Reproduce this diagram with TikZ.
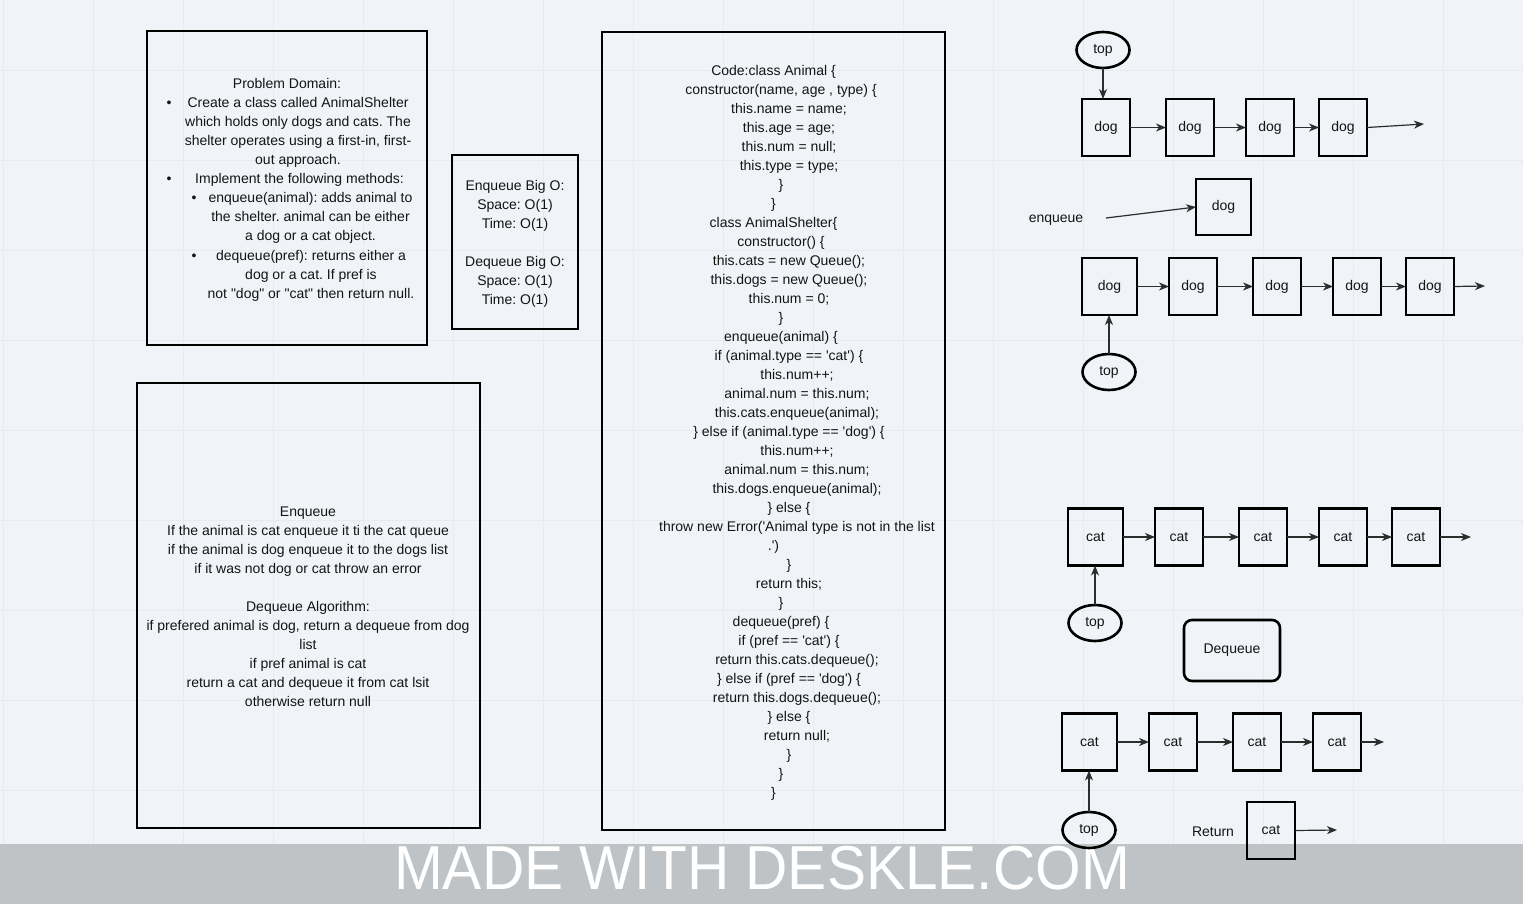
\documentclass[tikz,border=0pt]{standalone}
\usepackage{fontspec}
\setmainfont{Liberation Sans}
\usetikzlibrary{arrows.meta,shapes.geometric}
\definecolor{bg}{RGB}{240,243,247}
\definecolor{gridc}{RGB}{231,235,240}
\definecolor{band}{RGB}{191,195,198}
\definecolor{ink}{RGB}{20,20,20}
\definecolor{linkc}{RGB}{45,45,45}
\newcommand{\mlines}[1]{\begin{tabular}[t]{@{}c@{}}#1\end{tabular}}
\newcommand{\indA}{\hspace*{15pt}}
\newcommand{\indB}{\hspace*{31pt}}
\newcommand{\indC}{\hspace*{47pt}}
\newcommand{\squote}{\textquotesingle}
\newcommand{\dquote}{\textquotedbl}
\frenchspacing
\begin{document}
\begin{tikzpicture}[x=1pt,y=-1pt,
  every node/.style={font=\frenchspacing\fontsize{14}{19}\selectfont, text=ink, inner sep=0pt, outer sep=0pt},
  bigbox/.style={draw=black, line width=2pt},
  cell/.style={draw=black, line width=2.2pt, minimum height=57pt},
  topnode/.style={ellipse, draw=black, line width=2.6pt, minimum width=53pt, minimum height=36pt},
  link/.style={draw=linkc, line width=1.2pt, -{Stealth[length=10pt,width=8pt,inset=3pt]}},
  txt/.style={anchor=base}
]
\useasboundingbox (0,0) rectangle (1523,904);
\fill[bg] (0,0) rectangle (1523,904);
\foreach \gx in {3,93,...,1523} \draw[gridc, line width=0.7pt] (\gx,0) -- (\gx,904);
\foreach \gy in {70,160,...,904} \draw[gridc, line width=0.7pt] (0,\gy) -- (1523,\gy);

% watermark band
\fill[band] (0,844) rectangle (1523,904);
\node[font=\fontsize{62}{62}\selectfont, text=white, xscale=0.945] (wm) at (762,868) {MADE WITH DESKLE.COM};

% Problem domain
\node[bigbox, minimum width=280pt, minimum height=314pt] (pdbox) at (287,188) {};
\node[txt] (pdt) at (287,89) {Problem Domain:};
\node[txt] (pd1) at (298,108) {\mlines{Create a class called AnimalShelter\\which holds only dogs and cats. The\\shelter operates using a first-in, first-\\out approach.}};
\node[txt] (pd2) at (299.5,184) {Implement the following methods:};
\node[txt] (pd3) at (310.5,203) {\mlines{enqueue(animal): adds animal to\\the shelter. animal can be either\\a dog or a cat object.}};
\node[txt] (pd4) at (311,260) {\mlines{dequeue(pref): returns either a\\dog or a cat. If pref is\\not \dquote dog\dquote{} or \dquote cat\dquote{} then return null.}};
\node[txt] (bu1) at (169,108) {\textbullet};
\node[txt] (bu2) at (169,184) {\textbullet};
\node[txt] (bu3) at (194,203) {\textbullet};
\node[txt] (bu4) at (194,260) {\textbullet};

% Big O
\node[bigbox, minimum width=126pt, minimum height=174pt] (bigobox) at (515,242) {};
\node[txt] (bigo) at (515,191) {\mlines{Enqueue Big O:\\Space: O(1)\\Time: O(1)\\ \\Dequeue Big O:\\Space: O(1)\\Time: O(1)}};

% Algorithm
\node[bigbox, minimum width=343pt, minimum height=445pt] (algobox) at (308.5,605.5) {};
\node[txt] (algo) at (308,516) {\mlines{Enqueue\\If the animal is cat enqueue it ti the cat queue\\if the animal is dog enqueue it to the dogs list\\if it was not dog or cat throw an error\\ \\Dequeue Algorithm:\\if prefered animal is dog, return a dequeue from dog\\list\\if pref animal is cat\\return a cat and dequeue it from cat lsit\\otherwise return null}};

% Code
\node[bigbox, minimum width=343pt, minimum height=798pt] (codebox) at (773.5,431) {};
\node[txt] (code) at (773.5,76) {\mlines{%
Code:class Animal \{\\
\indA constructor(name, age , type) \{\\
\indB this.name = name;\\
\indB this.age = age;\\
\indB this.num = null;\\
\indB this.type = type;\\
\indA \}\\
\}\\
class AnimalShelter\{\\
\indA constructor() \{\\
\indB this.cats = new Queue();\\
\indB this.dogs = new Queue();\\
\indB this.num = 0;\\
\indA \}\\
\indA enqueue(animal) \{\\
\indB if (animal.type == \squote cat\squote) \{\\
\indC this.num++;\\
\indC animal.num = this.num;\\
\indC this.cats.enqueue(animal);\\
\indB \} else if (animal.type == \squote dog\squote) \{\\
\indC this.num++;\\
\indC animal.num = this.num;\\
\indC this.dogs.enqueue(animal);\\
\indB \} else \{\\
\indC throw new Error(\squote Animal type is not in the list\\
.\squote)\\
\indB \}\\
\indB return this;\\
\indA \}\\
\indA dequeue(pref) \{\\
\indB if (pref == \squote cat\squote) \{\\
\indC return this.cats.dequeue();\\
\indB \} else if (pref == \squote dog\squote) \{\\
\indC return this.dogs.dequeue();\\
\indB \} else \{\\
\indC return null;\\
\indB \}\\
\indA \}\\
\}}};

% Dog queue 1
\node[topnode] (t1) at (1103,50) {top};
\node[cell, minimum width=48pt] (da1) at (1106,127.5) {dog};
\node[cell, minimum width=48pt] (da2) at (1190,127.5) {dog};
\node[cell, minimum width=48pt] (da3) at (1270,127.5) {dog};
\node[cell, minimum width=48pt] (da4) at (1343,127.5) {dog};
\coordinate (daend) at (1424,124);
\draw[link] (t1.south) -- (t1.south |- da1.north);
\draw[link] (da1.east) -- (da2.west);
\draw[link] (da2.east) -- (da3.west);
\draw[link] (da3.east) -- (da4.west);
\draw[link] (da4.east) -- (daend);

% enqueue
\node (enq) at (1056,220) {enqueue};
\node[cell, minimum width=55pt, minimum height=56pt] (dn) at (1223.5,207) {dog};
\coordinate (enqs) at (1106,218);
\draw[link] (enqs) -- (dn.west);

% Dog queue 2
\node[cell, minimum width=55pt] (db1) at (1109.5,286.5) {dog};
\node[cell, minimum width=48pt] (db2) at (1193,286.5) {dog};
\node[cell, minimum width=48pt] (db3) at (1277,286.5) {dog};
\node[cell, minimum width=48pt] (db4) at (1357,286.5) {dog};
\node[cell, minimum width=48pt] (db5) at (1430,286.5) {dog};
\coordinate (dbend) at (1485,286);
\node[topnode] (t2) at (1109,372) {top};
\draw[link] (db1.east) -- (db2.west);
\draw[link] (db2.east) -- (db3.west);
\draw[link] (db3.east) -- (db4.west);
\draw[link] (db4.east) -- (db5.west);
\draw[link] (db5.east) -- (dbend);
\draw[link] (t2.north) -- (t2.north |- db1.south);

% Cat queue 1
\node[cell, minimum width=55pt] (ca1) at (1095.5,537) {cat};
\node[cell, minimum width=48pt] (ca2) at (1179,537) {cat};
\node[cell, minimum width=48pt] (ca3) at (1263,537) {cat};
\node[cell, minimum width=48pt] (ca4) at (1343,537) {cat};
\node[cell, minimum width=48pt] (ca5) at (1416,537) {cat};
\coordinate (caend) at (1471,537);
\node[topnode] (t3) at (1095,623) {top};
\draw[link] (ca1.east) -- (ca2.west);
\draw[link] (ca2.east) -- (ca3.west);
\draw[link] (ca3.east) -- (ca4.west);
\draw[link] (ca4.east) -- (ca5.west);
\draw[link] (ca5.east) -- (caend);
\draw[link] (t3.north) -- (t3.north |- ca1.south);

% Dequeue
\node[draw=black, line width=2.6pt, rounded corners=8pt, minimum width=96pt, minimum height=61pt] (deq) at (1232,650.5) {Dequeue};

% Cat queue 2
\node[cell, minimum width=55pt] (cb1) at (1089.5,742) {cat};
\node[cell, minimum width=48pt] (cb2) at (1173,742) {cat};
\node[cell, minimum width=48pt] (cb3) at (1257,742) {cat};
\node[cell, minimum width=48pt] (cb4) at (1337,742) {cat};
\coordinate (cbend) at (1384,742);
\node[topnode] (t4) at (1089,830) {top};
\draw[link] (cb1.east) -- (cb2.west);
\draw[link] (cb2.east) -- (cb3.west);
\draw[link] (cb3.east) -- (cb4.west);
\draw[link] (cb4.east) -- (cbend);
\draw[link] (t4.north) -- (t4.north |- cb1.south);

% Return
\node (ret) at (1213,832) {Return};
\node[cell, minimum width=48pt] (rc) at (1271,830.5) {cat};
\coordinate (rcend) at (1337,830);
\draw[link] (rc.east) -- (rcend);
\end{tikzpicture}
\end{document}
